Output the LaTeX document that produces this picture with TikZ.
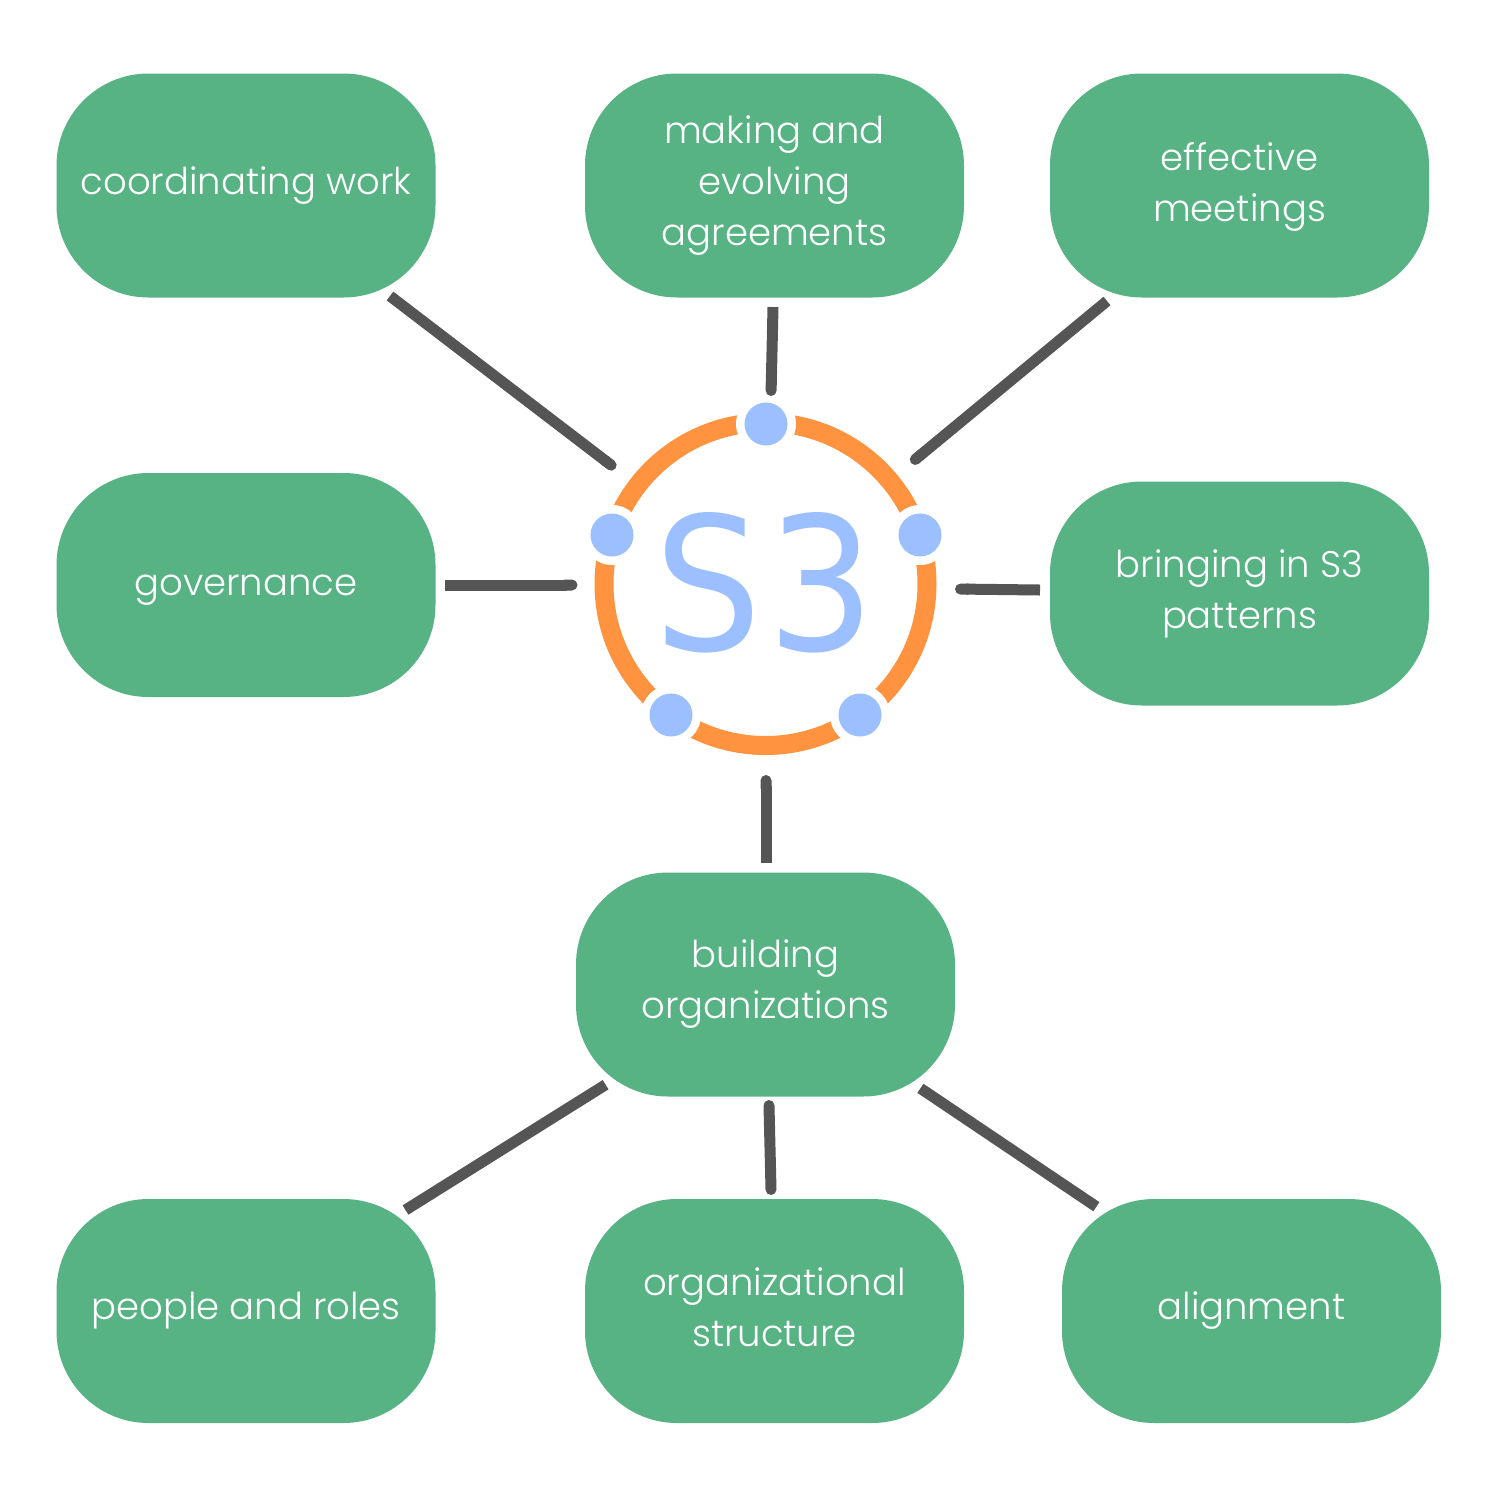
\documentclass[tikz,border=0pt]{standalone}
\usetikzlibrary{arrows.meta}
\usepackage{fontspec}
\setmainfont{Poppins}[UprightFont=* Light]
\newfontfamily\sfont{DejaVu Sans}[FakeStretch=0.91]
\definecolor{boxg}{HTML}{57B383}
\definecolor{linek}{HTML}{555555}
\definecolor{ringo}{HTML}{FF9340}
\definecolor{dotb}{HTML}{9CBFFF}
\newcommand{\lift}[2]{\raisebox{#1}{\begin{tabular}{@{}c@{}}#2\end{tabular}}}
\begin{document}
\begin{tikzpicture}[x=1pt,y=-1pt,
  boxn/.style={fill=boxg,rounded corners=92pt,minimum width=379pt,minimum height=224pt,inner sep=0pt,text=white,align=center,font=\fontsize{37}{51}\selectfont},
  conn/.style={draw=linek,line width=11pt,-{Round Cap[]}},
  conb/.style={draw=linek,line width=11pt},
  conr/.style={draw=linek,line width=11pt,line cap=round},
  dotn/.style={circle,fill=dotb,minimum size=43pt,inner sep=0pt}]
\useasboundingbox (0,0) rectangle (1497,1497);
\node[boxn] (a) at (246,185.5) {coordinating work};
\node[boxn] (b) at (774.5,185.5) {making and\\evolving\\agreements};
\node[boxn] (c) at (1239.5,185.5) {\lift{-1.5pt}{effective\\meetings}};
\node[boxn] (d) at (246,585) {\lift{-4pt}{governance}};
\node[boxn] (e) at (1239.5,593.5) {bringing in S3\\patterns};
\node[boxn] (f) at (765.5,984.5) {building\\organizations};
\node[boxn] (g) at (246,1311) {people and roles};
\node[boxn] (h) at (774.5,1311) {\lift{4pt}{organizational\\structure}};
\node[boxn] (i) at (1251.5,1311) {alignment};
\coordinate (cc) at (765.5,584);
\draw[ringo,line width=19pt] (cc) circle (161.5pt);
\foreach \n/\x/\y in {p1/766/424,p2/920/535,p3/860/715,p4/671/715,p5/612/535}{
  \fill[white] (\x,\y) circle (30pt);
  \node[dotn] (\n) at (\x,\y) {};
}
\node[text=dotb,font=\sfont\fontsize{186}{186}\selectfont] (s) at (765,582.5) {S\kern 5pt 3};
\coordinate (a1) at (390,296); \coordinate (a2) at (615.5,468.5);
\coordinate (b1) at (773,307); \coordinate (b2) at (771,396);
\coordinate (c1) at (1107,301); \coordinate (c2) at (911,463);
\coordinate (d1) at (445,585); \coordinate (d2) at (577.5,585);
\coordinate (e1) at (1040,590); \coordinate (e2) at (955,589);
\coordinate (f2) at (766,863); \coordinate (f1) at (766,775);
\coordinate (g1) at (605.6,1084.7); \coordinate (g2) at (405.5,1210);
\coordinate (h1) at (769,1105.5); \coordinate (h2) at (771,1189.5);
\coordinate (i1) at (920.4,1088.3); \coordinate (i2) at (1096.4,1206.7);
\foreach \u/\v in {a1/a2,b1/b2,c1/c2,d1/d2,e1/e2,f2/f1}
  \draw[conn] (\u) -- (\v);
\foreach \u/\v in {g1/g2,i1/i2}
  \draw[conb] (\u) -- (\v);
\draw[conr] (h1) -- (h2);
\end{tikzpicture}
\end{document}
